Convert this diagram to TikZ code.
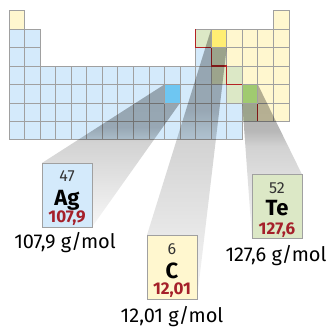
\documentclass[tikz,border=0pt]{standalone}
\usepackage{fontspec}
\setmainfont{Fira Sans}
\usepackage{tikz}
\usetikzlibrary{positioning, fadings, backgrounds}
\usepackage{xcolor}
\definecolor{metalblue}{RGB}{212,234,251}
\definecolor{nonmetalyellow}{RGB}{255,247,207}
\definecolor{metalloidgreen}{RGB}{220,232,198}
\definecolor{agblue}{RGB}{110,198,242}
\definecolor{cyellow}{RGB}{255,238,115}
\definecolor{tegreen}{RGB}{160,202,112}
\definecolor{massred}{RGB}{165,32,42}
\definecolor{gridgray}{RGB}{160,160,160}
\definecolor{stairred}{RGB}{180,35,35}
\pgfdeclarelayer{beam}
\pgfsetlayers{background,beam,main}
\pgfdeclareverticalshading{beamshading}{100bp}{color(0bp)=(black); color(25bp)=(white!10!black);
    color(55bp)=(white!55!black); color(60bp)=(white!88!black); color(100bp)=(white)}
\pgfdeclarefading{beamfade}{\pgfuseshading{beamshading}}

\begin{document}
\begin{tikzpicture}[
    x=1pt, y=-1pt,
    cell/.style={draw=gridgray, line width=0.8pt},
    elemcell/.style={draw=gridgray, line width=0.8pt, minimum width=15.55pt,
                     minimum height=18.45pt, inner sep=0pt, outer sep=0pt},
    elembox/.style={draw=gridgray, line width=0.9pt, minimum width=50pt,
                    minimum height=64pt, inner sep=0pt, outer sep=0pt},
    znum/.style={anchor=base, inner sep=0pt, font=\fontsize{16}{16}\selectfont, text=black!80},
    symb/.style={anchor=base, inner sep=0pt, font=\fontsize{22}{22}\selectfont\bfseries},
    mass/.style={anchor=base, inner sep=0pt, font=\fontsize{17}{17}\selectfont\bfseries, text=massred},
    molar/.style={anchor=base, inner sep=0pt, font=\fontsize{20}{20}\selectfont},
    beamshade/.style={fill=black, fill opacity=0.32, path fading=beamfade},
]
    \useasboundingbox (0,0) rectangle (333,327);

    % Table
    \begin{pgfonlayer}{background}
    \foreach \r/\cols in {2/{1,2}, 3/{1,2,13}, 4/{1,...,13}, 5/{1,...,14}, 6/{1,...,15}, 7/{1,...,15}}
        \foreach \c in \cols
            \draw[cell, fill=metalblue] ({9+(\c-1)*15.55},{10.7+(\r-1)*18.45}) rectangle +(15.55,18.45);
    \foreach \r/\cols in {2/{13}, 3/{14}, 4/{14,15}, 5/{15}, 6/{16}}
        \foreach \c in \cols
            \draw[cell, fill=metalloidgreen] ({9+(\c-1)*15.55},{10.7+(\r-1)*18.45}) rectangle +(15.55,18.45);
    \foreach \r/\cols in {1/{1,18}, 2/{15,...,18}, 3/{15,...,18}, 4/{16,17,18}, 5/{17,18}, 6/{17,18}}
        \foreach \c in \cols
            \draw[cell, fill=nonmetalyellow] ({9+(\c-1)*15.55},{10.7+(\r-1)*18.45}) rectangle +(15.55,18.45);

    % Metal / non-metal border
    \draw[stairred, line width=1.2pt]
        (195.6,29.15) |- (211.15,47.6) |- (226.7,66.05) |- (242.25,84.5)
        |- (257.8,102.95) -- (257.8,121.4);
    \end{pgfonlayer}

    % Highlighted elements
    \node[elemcell, fill=agblue] (agcell) at (172.25,93.725) {};
    \node[elemcell, fill=cyellow] (ccell) at (218.93,38.375) {};
    \node[elemcell, fill=tegreen] (tecell) at (250.03,93.725) {};

    % Element boxes
    \node[elembox, fill=metalblue] (agbox) at (67,195) {};
    \node[znum] (agz) at ([yshift=-18pt]agbox.north) {47};
    \node[symb] (agsym) at ([yshift=-42pt]agbox.north) {Ag};
    \node[mass] (agmass) at ([yshift=-59.5pt]agbox.north) {107,9};
    \node[molar] (agmol) at (65,248) {107,9 g/mol};

    \node[elembox, fill=nonmetalyellow] (cbox) at (172,267) {};
    \node[znum] (cz) at ([yshift=-19pt]cbox.north) {6};
    \node[symb] (csym) at ([yshift=-43pt]cbox.north) {C};
    \node[mass] (cmass) at ([yshift=-59.5pt]cbox.north) {12,01};
    \node[molar] (cmol) at (172,322) {12,01 g/mol};

    \node[elembox, fill=metalloidgreen] (tebox) at (277,206.5) {};
    \node[znum] (tez) at ([yshift=-19pt]tebox.north) {52};
    \node[symb] (tesym) at ([yshift=-41pt]tebox.north) {Te};
    \node[mass] (temass) at ([yshift=-59.5pt]tebox.north) {127,6};
    \node[molar] (temol) at (276,261) {127,6 g/mol};

    % Beams
    \begin{pgfonlayer}{beam}
    \fill[beamshade] (agcell.north west) -- (agcell.north east) -- (agcell.south east)
        -- (agbox.south east) -- (agbox.south west) -- (agbox.north west) -- cycle;
    \fill[beamshade] (ccell.north west) -- (ccell.north east) -- (ccell.south east)
        -- (cbox.south east) -- (cbox.south west) -- (cbox.north west) -- cycle;
    \fill[beamshade] (tecell.north west) -- (tecell.north east) -- (tebox.north east)
        -- (tebox.south east) -- (tebox.south west) -- (tecell.south west) -- cycle;
    \end{pgfonlayer}
\end{tikzpicture}
\end{document}
